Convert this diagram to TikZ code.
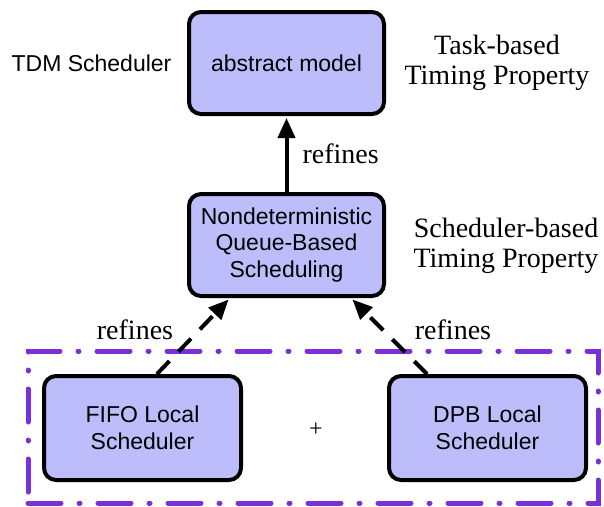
\documentclass[tikz,border=0pt]{standalone}
\usepackage{fontspec}
\setmainfont{Liberation Serif}
\setsansfont{Liberation Sans}
\usetikzlibrary{arrows.meta}
\definecolor{boxfill}{RGB}{189,189,251}
\definecolor{grpurple}{RGB}{122,47,216}
\begin{document}
\begin{tikzpicture}[x=1pt,y=-1pt,
  box/.style={draw=black, line width=4pt, fill=boxfill, rounded corners=12pt,
    font=\sffamily\fontsize{23}{26.5}\selectfont, align=center, inner sep=0pt,
    minimum width=195pt, minimum height=102pt},
  lowbox/.style={box, minimum width=197pt, minimum height=104pt},
  sanslabel/.style={font=\sffamily\fontsize{23}{26.5}\selectfont, inner sep=0pt},
  seriflabel/.style={font=\rmfamily\fontsize{28}{30}\selectfont, align=center, inner sep=0pt},
  solidarrow/.style={line width=4pt, -{Triangle[length=20pt,width=17pt]}, shorten >=2pt},
  dasharrow/.style={solidarrow, dash pattern=on 18pt off 13pt},
  grp/.style={draw=grpurple, line width=5pt, line cap=round,
    dash pattern=on 33pt off 18pt on 1pt off 18pt, inner sep=0pt,
    minimum width=570pt, minimum height=152pt}
]
\useasboundingbox (0,0) rectangle (604,506);

\node[grp] (group) at (313,427) {};

\node[box] (top) at (286.5,63) {abstract model};
\node[box] (mid) at (286.5,245) {Nondeterministic\\Queue-Based\\Scheduling};
\node[lowbox] (fifo) at (142.5,428) {FIFO Local\\Scheduler};
\node[lowbox] (dpb) at (487.5,428) {DPB Local\\Scheduler};

\node[sanslabel] (tdm) at (91.5,63) {TDM Scheduler};
\node[seriflabel] (task) at (497,63) {Task-based\\Timing Property};
\node[seriflabel] (sched) at (506,246) {Scheduler-based\\Timing Property};

\node[font=\rmfamily\fontsize{24}{26}\selectfont, inner sep=0pt] (plus) at (316,430) {+};

\draw[solidarrow] (mid.north) -- (top.south)
  node[pos=0.5, right=14pt, seriflabel] (r1) {refines};

\draw[dasharrow] ([xshift=14.5pt]fifo.north) -- ([xshift=-56.5pt]mid.south);
\draw[dasharrow] ([xshift=-60.5pt]dpb.north) -- ([xshift=64.5pt]mid.south);

\node[seriflabel] (r2) at (135,330) {refines};
\node[seriflabel] (r3) at (453,330) {refines};
\end{tikzpicture}
\end{document}
